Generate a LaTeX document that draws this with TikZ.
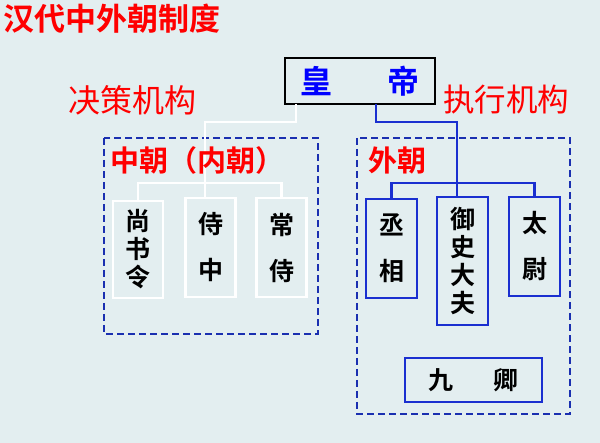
\documentclass[tikz,border=0pt]{standalone}
\usepackage{fontspec}
\newfontfamily\cjk{Noto Sans CJK SC}
\newfontfamily\cjkb{Noto Sans CJK SC Bold}
\definecolor{bg}{HTML}{E3EEF0}
\definecolor{dblue}{HTML}{1A2FB0}
\definecolor{lblue}{HTML}{1A2FD0}
\begin{document}
\begin{tikzpicture}[x=1pt,y=-1pt,
  redlab/.style={text=red,font=\cjk\fontsize{26}{26}\selectfont,inner sep=0},
  wbox/.style={draw=white,line width=2.2pt,minimum width=50pt,inner sep=0,text=black,font=\cjkb\fontsize{25}{28}\selectfont,align=center},
  bbox/.style={draw=lblue,line width=2.2pt,minimum width=51pt,inner sep=0,text=black,font=\cjkb\fontsize{25}{28}\selectfont,align=center},
  dbox/.style={draw=dblue,line width=1.8pt,dash pattern=on 7pt off 4pt},
  wl/.style={draw=white,line width=2.2pt},
  bl/.style={draw=lblue,line width=2.2pt}]
\fill[bg] (0,0) rectangle (600,443);
\useasboundingbox (0,0) rectangle (600,443);
\node[redlab,anchor=west,font=\cjkb\fontsize{31}{31}\selectfont] (title) at (3,19) {汉代中外朝制度};
\node[redlab,anchor=west,font=\cjk\fontsize{32}{32}\selectfont] (jc) at (68,100) {决策机构};
\node[redlab,anchor=west,font=\cjk\fontsize{31.5}{32}\selectfont] (zx) at (443,100) {执行机构};
\node[draw=black,line width=1.8pt,fill=bg,minimum width=150pt,minimum height=46pt,text=blue,font=\cjkb\fontsize{32}{32}\selectfont] (hd) at (360,81) {皇\hspace{55pt}帝};
\draw[dbox] (104,138) rectangle (318,334);
\draw[dbox] (357,138) rectangle (570,414);
% left
\node[wbox,minimum height=97pt] (s) at (138,249.5) {尚\\书\\令};
\node[wbox,minimum height=99pt] (sz) at (210.5,247.5) {侍\\[18pt]中};
\node[wbox,minimum height=99pt] (cs) at (281.5,247.5) {常\\[18pt]侍};
\coordinate (wt) at (296,104);
\draw[wl] (wt) -- (296,122) -- (205,122) -- (205,198);
\draw[wl] (s.north) -- (138,183) -- (281.5,183) -- (cs.north);
\node[redlab,anchor=west,font=\cjkb\fontsize{29}{29}\selectfont] (zc) at (110,160) {中朝（内朝）};
\node[redlab,anchor=west,font=\cjkb\fontsize{29}{29}\selectfont] (wc) at (368,160) {外朝};
% right
\node[bbox,minimum height=99pt] (cx) at (391.5,248.5) {丞\\[18pt]相};
\node[bbox,minimum height=128pt] (ys) at (462.5,261) {御\\史\\大\\夫};
\node[bbox,minimum height=99pt] (tw) at (534.5,246.5) {太\\[18pt]尉};
\node[bbox,minimum width=137pt,minimum height=44pt] (jq) at (473.5,380) {九\hspace{40pt}卿};
\draw[bl] (376,104) -- (376,122) -- (457,122) -- (457,197);
\draw[bl] (cx.north) -- (391.5,183) -- (534.5,183) -- (tw.north);
\end{tikzpicture}
\end{document}
